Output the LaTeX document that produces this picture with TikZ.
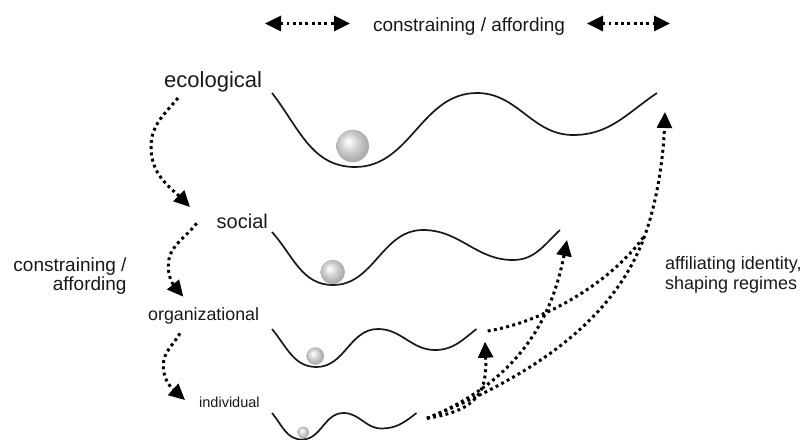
\documentclass[tikz,border=0pt]{standalone}
\usepackage{fontspec}
\setmainfont{Liberation Sans}
\usetikzlibrary{arrows.meta}
\pgfdeclareradialshading{greyball}{\pgfpoint{-7bp}{7bp}}{color(0bp)=(white); color(5bp)=(gray!12); color(14bp)=(gray!38); color(22bp)=(gray!58); color(27bp)=(gray!66); color(50bp)=(gray!66)}
\begin{document}
\begin{tikzpicture}[x=1pt,y=-1pt,
  land/.style={line width=1.7pt, black!90},
  dotline/.style={line width=3pt, dash pattern=on 2.9pt off 3.4pt},
  dotarrow/.style={dotline, -{Triangle[length=16pt,width=15pt]}},
  dotboth/.style={dotline, {Triangle[length=16pt,width=15pt]}-{Triangle[length=16pt,width=15pt]}},
  ball/.style={circle, inner sep=0pt, shading=greyball},
  lab/.style={inner sep=0pt, text=black!90}]
\useasboundingbox (0,0) rectangle (811,439);

% ---- top arrows and label
\node[lab, anchor=base, font=\fontsize{19}{22}\selectfont] (top) at (469,31.5) {constraining / affording};
\coordinate (tl1) at (265,23.5); \coordinate (tl2) at (350,23.5);
\coordinate (tr1) at (587,23.5); \coordinate (tr2) at (670,23.5);
\draw[dotboth] (tl1) -- (tl2);
\draw[dotboth] (tr1) -- (tr2);

% ---- level labels
\node[lab, anchor=base west, font=\fontsize{22}{24}\selectfont] (eco) at (164,87.5) {ecological};
\node[lab, anchor=base west, font=\fontsize{20}{22}\selectfont] (soc) at (216.5,228) {social};
\node[lab, anchor=base west, font=\fontsize{17.8}{20}\selectfont] (org) at (148,320) {organizational};
\node[lab, anchor=base west, font=\fontsize{14.5}{16}\selectfont] (ind) at (199,407.7) {individual};

\node[lab, anchor=base east, font=\fontsize{19}{22}\selectfont] (cl1) at (126.7,271.7) {constraining /};
\node[lab, anchor=base east, font=\fontsize{19}{22}\selectfont] (cl2) at (126.7,290) {affording};

\node[lab, anchor=base west, font=\fontsize{18}{21}\selectfont] (ar1) at (665,269) {affiliating identity,};
\node[lab, anchor=base west, font=\fontsize{18}{21}\selectfont] (ar2) at (665,289) {shaping regimes};

% ---- landscapes (angles are screen angles)
\draw[land] (272,93) to[out=-52,in=180] (355,167) to[out=0,in=180] (477,93)
  to[out=0,in=180] (573,135) to[out=0,in=-146] (657,93);
\draw[land] (272,232) to[out=-48,in=180] (333,285) to[out=0,in=180] (423,230)
  to[out=0,in=180] (513,260) to[out=0,in=-137] (560,230);
\draw[land] (272,329) to[out=-50,in=180] (316.5,367) to[out=0,in=180] (378,329)
  to[out=0,in=180] (435,350) to[out=0,in=-142] (476.5,329);
\draw[land] (272,413) to[out=-50,in=180] (302,439.5) to[out=0,in=180] (343.5,413)
  to[out=0,in=180] (381.5,428.5) to[out=0,in=-142] (416.5,413);

% ---- balls
\node[ball, minimum size=32.6pt] (b1) at (352.7,146) {};
\node[ball, minimum size=24.4pt] (b2) at (332.7,272) {};
\node[ball, minimum size=17.6pt] (b3) at (315.3,356) {};
\node[ball, minimum size=11.6pt] (b4) at (303.3,432.3) {};

% ---- left dotted arrows
\coordinate (es0) at (178,98); \coordinate (esL) at (151,147); \coordinate (es1) at (190,207);
\draw[dotarrow] (es0) to[out=-130,in=90] (esL) to[out=-90,in=135] (es1);
\coordinate (so0) at (196.7,223.3); \coordinate (soL) at (168.3,266); \coordinate (so1) at (183.3,296.7);
\draw[dotarrow] (so0) to[out=-128,in=90] (soL) to[out=-90,in=130] (so1);
\coordinate (oi0) at (180,333.3); \coordinate (oiL) at (163.3,366); \coordinate (oi1) at (185,400);
\draw[dotarrow] (oi0) to[out=-120,in=90] (oiL) to[out=-90,in=138] (oi1);

% ---- right dotted arrows
\coordinate (i0) at (427,418.3);
\coordinate (o0) at (487.7,331);
\coordinate (tipO) at (485,341.7);
\coordinate (tipS) at (567,240);
\coordinate (tipE) at (665,112);
\coordinate (merge) at (645,235);
\draw[dotarrow] (i0) .. controls (480,410) and (487,390) .. (tipO);
\draw[dotarrow] (i0) .. controls (524,379) and (553,312) .. (tipS);
\draw[dotarrow] (i0) .. controls (535,375) and (615,319) .. (merge)
  .. controls (658.5,197.3) and (663.6,152) .. (tipE);
\draw[dotline] (o0) .. controls (544,322) and (612,282) .. (merge);
\end{tikzpicture}
\end{document}
